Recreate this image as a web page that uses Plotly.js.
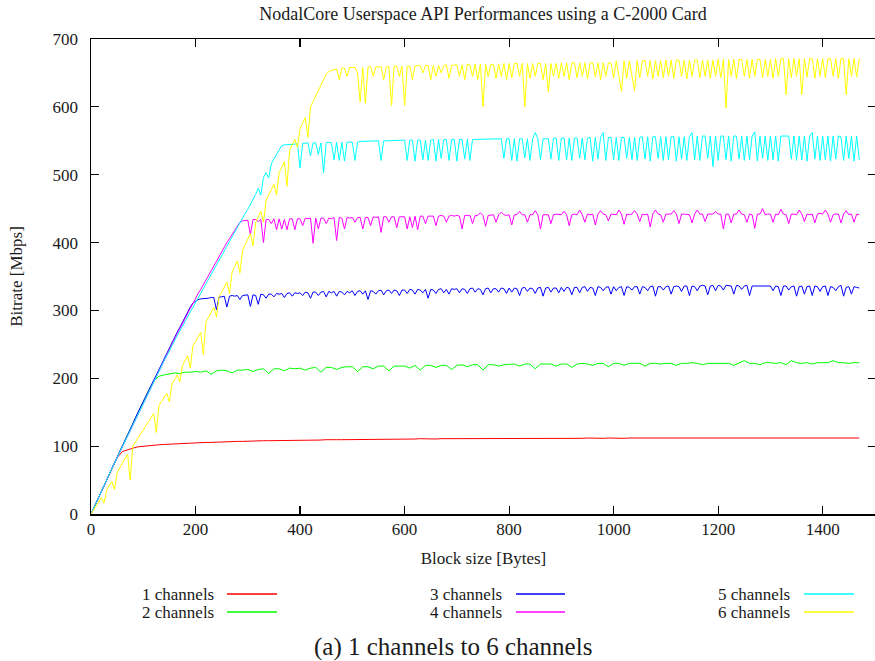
<!DOCTYPE html>
<html>
<head>
<meta charset="utf-8">
<script src="https://cdn.plot.ly/plotly-3.0.1.min.js"></script>
<style>
html,body{margin:0;padding:0;overflow:hidden;background:#fff;}
#chart{width:876px;height:661px;}
</style>
</head>
<body>
<div id="chart"></div>
<script>
// ---- data (Bitrate in Mbps vs block size in bytes) ----
const seriesNames = ["1 channels","2 channels","3 channels","4 channels","5 channels","6 channels"];
const seriesColors = ["#ff0000","#00ff00","#0000ff","#ff00ff","#00ffff","#ffff00"];
const blockStepCoarse = 10; // bytes between samples for 1 and 2 channels
const blockStepFine = 5;    // bytes between samples for 3..6 channels
const xTickVals = [0,200,400,600,800,1000,1200,1400];
const yTickVals = [0,100,200,300,400,500,600,700];

const ch1 = [
0,17,34,50,67,83,92,95,97,99,
100,101,101.5,102,102.5,103,103.5,104,104,104.5,
105,105,105.5,105.5,106,106,106.5,106.5,107,107,
107.5,107.5,107.5,108,108,108,108,108.5,108.5,108.5,
109,108.5,109,109,109,109.5,109,109.5,109.5,109.5,
110,109.5,110,110,110,110,110.5,110,110.5,110.5,
110.5,110.5,110.5,111,110.5,111,110.5,111,111,110.5,
111,111,111,110.5,111,111,111,111.5,111,111,
111,111.5,111,111,111.5,111,111.5,111,111.5,111.5,
111.5,111,111.5,111.5,111.5,112,111.5,111.5,111.5,112,
111.5,112,111.5,112,112,111.5,112,112,111.5,112,
112,112,112,111.5,112,112,112,112,112,112,
112,112.5,112,112,112,112.5,112,112,112.5,112,
112,112.5,112,112,112.5,112,112,112.5,112,112,
112,112,112.5,112,112,112.5,112,112];

const ch2 = [
0,17,34,50,67,84,100,117,133,150,
166,182,196,203,205,206,208,207,209,209,
210,209,211,206,211,212,211,208,212,212,
213,210,213,214,207,214,214,211,215,214,
215,212,215,216,209,216,216,213,216,217,
217,210,217,217,214,218,218,211,218,218,
218,215,219,212,219,219,216,219,219,213,
219,220,217,220,220,212,220,220,218,220,
220,221,218,221,221,214,221,221,221,218,
221,221,216,221,222,221,219,222,222,217,
222,222,219,222,222,222,218,222,222,221,
222,222,219,222,222,223,222,220,222,222,
222,223,222,219,222,226,222,222,220,223,
223,222,223,220,226,223,222,223,221,223,
223,223,226,223,223,222,223,223];

const ch3 = [
0,8,17,25,34,42,50,59,67,76,84,92,100,109,117,125,133,142,150,158,
166,174,182,190,198,206,214,222,230,238,245,253,260,268,275,283,291,298,305,311,
314,316,317,317,318,318,319,319,301,320,320,321,305,321,322,321,322,316,322,323,
323,306,323,322,309,324,323,318,324,324,320,325,324,325,319,325,326,321,326,325,
326,322,327,326,318,327,327,322,327,328,320,328,326,328,321,328,327,323,328,326,
329,322,328,329,324,329,316,329,328,324,329,330,323,329,330,325,330,329,322,330,
330,325,331,330,324,331,330,326,331,318,331,330,325,331,332,326,331,324,332,331,
332,326,332,331,325,332,333,327,332,331,323,332,333,326,332,332,327,333,332,325,
333,327,333,332,322,333,334,328,333,332,325,333,334,321,333,334,327,333,333,326,
334,328,334,333,323,334,334,326,334,335,328,334,333,322,335,334,329,334,335,324,
335,329,334,335,322,335,334,330,335,335,324,335,334,329,335,336,321,335,335,330,
335,336,324,335,336,335,328,336,336,322,336,335,329,336,337,336,323,336,337,329,
337,336,330,337,337,336,324,337,336,331,336,337,322,336,336,336,336,337,336,336,
336,329,336,335,322,336,336,330,335,336,321,335,336,324,335,336,322,336,335,328,
335,336,322,335,334,329,335,337,321,334,335,324,335,334,333];

const ch4 = [
0,8,17,25,34,42,50,59,67,75,84,92,100,108,116,124,132,140,148,156,
164,172,180,188,196,204,212,220,228,236,243,251,258,266,273,281,288,296,303,310,
318,325,331,338,345,352,360,367,374,381,388,394,400,406,412,418,424,430,432,433,
433,412,434,434,431,434,400,434,434,428,435,419,435,420,434,419,435,435,419,435,
435,425,436,435,436,399,436,420,436,436,428,436,435,437,403,437,436,420,437,436,
437,430,437,437,420,437,437,425,438,437,438,415,438,438,430,438,438,422,438,438,
438,420,438,422,439,419,439,439,428,439,439,439,425,439,440,439,430,439,440,439,
440,439,420,440,440,440,428,440,440,444,440,424,440,440,441,430,441,445,441,440,
441,426,441,441,446,441,441,430,441,441,447,441,420,441,441,441,428,441,442,441,
441,446,441,425,441,442,441,448,441,430,442,441,442,426,442,447,442,441,432,442,
442,441,448,442,427,442,441,442,447,442,431,442,441,442,423,442,448,442,441,430,
442,442,442,447,442,428,442,442,442,441,429,442,448,442,442,431,442,442,442,446,
442,442,420,442,442,429,442,442,448,442,441,430,442,441,421,442,442,450,441,442,
442,430,442,441,449,442,441,428,442,442,441,448,442,431,442,441,442,429,442,443,
442,448,442,430,441,442,442,429,442,447,441,442,430,442,441];

const ch5 = [
0,8,17,25,34,42,50,59,67,75,84,92,100,108,116,124,132,140,148,156,
164,172,180,187,195,203,211,218,226,233,241,248,255,263,270,277,284,291,298,305,
312,319,326,333,340,347,354,361,368,375,382,389,396,403,410,417,424,431,437,443,
449,456,463,471,480,470,496,503,495,516,523,530,537,543,544,544,545,545,545,546,
510,546,546,547,528,547,547,530,547,503,547,548,547,522,548,521,548,520,548,548,
548,521,548,549,549,549,549,549,550,550,550,521,550,550,550,550,550,551,551,551,
551,521,551,551,520,551,551,522,551,521,551,552,520,552,524,552,552,521,552,552,
520,552,552,523,552,521,552,552,552,552,552,552,552,552,553,553,553,553,524,553,
553,521,553,520,553,553,525,553,521,553,562,553,522,553,553,553,523,554,554,521,
554,554,522,554,521,554,554,524,554,522,554,555,520,555,523,555,562,521,555,555,
522,555,521,555,555,524,555,522,555,521,555,556,523,556,520,556,556,524,556,521,
556,522,556,556,520,556,523,556,521,556,562,522,557,521,557,557,524,557,512,557,
521,557,557,522,557,520,557,557,523,557,521,557,522,557,563,520,557,524,557,521,
557,522,557,520,557,557,556,557,523,557,521,557,522,557,520,557,562,523,557,521,
557,522,557,520,557,523,557,556,521,557,524,557,520,557,522];

const ch6 = [
0,6,12,18,24,16,36,42,48,36,61,68,75,81,88,50,100,106,112,118,
124,130,136,142,148,120,160,166,172,178,165,192,198,205,195,219,226,233,215,248,
254,261,268,235,283,290,297,305,290,320,327,335,342,325,357,365,373,355,389,397,
405,413,395,429,438,446,430,462,470,478,486,470,503,511,519,483,536,544,552,540,
568,576,584,555,600,608,616,624,632,640,648,652,654,655,656,640,657,657,645,658,
658,658,650,607,658,605,659,659,645,659,659,659,640,659,659,602,660,660,645,660,
602,660,660,640,660,661,660,650,661,661,640,661,645,661,650,661,662,642,661,662,
662,645,662,640,663,662,645,663,640,663,600,663,645,662,663,642,663,645,664,640,
664,643,664,664,645,664,600,664,642,664,645,664,664,640,664,622,664,645,664,642,
665,645,665,640,665,665,643,665,645,665,641,665,665,644,665,640,665,645,665,665,
642,668,645,623,668,642,668,645,624,668,643,668,668,645,668,641,668,645,668,643,
669,645,669,642,669,669,645,669,641,669,645,669,669,643,669,645,669,642,669,645,
670,643,670,598,670,645,670,641,670,670,645,670,642,670,645,670,670,643,670,645,
670,642,671,645,671,671,618,671,643,671,645,671,618,671,644,671,671,642,671,645,
671,643,671,671,645,671,642,671,671,618,671,645,671,644,671];

const seriesValues = [ch1, ch2, ch3, ch4, ch5, ch6];
const seriesSteps = [blockStepCoarse, blockStepCoarse, blockStepFine, blockStepFine, blockStepFine, blockStepFine];

// ---- geometry ----
const W = 876, H = 661, ML = 91, MR = 0, MT = 39, MB = 147;
const PW = W - ML - MR, PH = H - MT - MB;
const pxX = px => (px - ML) / PW;
const pxY = py => (MT + PH - py) / PH;

const FONT = "Liberation Serif";
const TXT = "#1a1a1a";

const traces = seriesValues.map((vals, i) => ({
  type: "scatter", mode: "lines", name: seriesNames[i],
  x: vals.map((_, k) => k * seriesSteps[i]), y: vals,
  line: {color: seriesColors[i], width: 1}, hoverinfo: "skip"
}));

// legend (gnuplot style: label then line sample), 3 columns x 2 rows
const legendCols = [{textRight: 216, lineL: 227, lineR: 277},
                    {textRight: 504, lineL: 516, lineR: 565},
                    {textRight: 792, lineL: 804, lineR: 854}];
const legendRows = [594, 612];
const annotations = [];
const shapes = [];
seriesNames.forEach((name, i) => {
  const c = legendCols[Math.floor(i / 2)];
  const r = legendRows[i % 2];
  annotations.push({xref: "paper", yref: "paper", x: pxX(c.textRight), y: pxY(r),
    xanchor: "right", yanchor: "middle", text: name, showarrow: false,
    font: {family: FONT, size: 17, color: TXT}});
  shapes.push({type: "line", xref: "paper", yref: "paper",
    x0: pxX(c.lineL), x1: pxX(c.lineR), y0: pxY(r), y1: pxY(r),
    line: {color: seriesColors[i], width: 1.5}});
});
annotations.push({xref: "paper", yref: "paper", x: pxX(453), y: pxY(647),
  xanchor: "center", yanchor: "middle", text: "(a) 1 channels to 6 channels", showarrow: false,
  font: {family: FONT, size: 25, color: TXT}});

const axisCommon = {
  showline: true, linecolor: "#000", linewidth: 1.5, mirror: "ticks",
  ticks: "inside", ticklen: 8, tickwidth: 1.2, tickcolor: "#000",
  showgrid: false, zeroline: false, fixedrange: true,
  tickfont: {family: FONT, size: 17, color: TXT}
};

const layout = {
  width: W, height: H,
  margin: {l: ML, r: MR, t: MT, b: MB, pad: 0},
  paper_bgcolor: "#fff", plot_bgcolor: "#fff",
  showlegend: false,
  title: {text: "NodalCore Userspace API Performances using a C-2000 Card",
          font: {family: FONT, size: 18, color: TXT}, xref: "container", x: 483 / W, xanchor: "center",
          y: 1 - 14 / H, yanchor: "middle"},
  xaxis: Object.assign({}, axisCommon, {
    range: [0, 1502], tickmode: "array", tickvals: xTickVals, ticktext: xTickVals.map(String),
    ticklabelstandoff: -1,
    title: {text: "Block size [Bytes]", font: {family: FONT, size: 17, color: TXT}, standoff: 14}
  }),
  yaxis: Object.assign({}, axisCommon, {
    range: [0, 700], tickmode: "array", tickvals: yTickVals, ticktext: yTickVals.map(String),
    ticklabelstandoff: 8,
    title: {text: "Bitrate [Mbps]", font: {family: FONT, size: 17, color: TXT}, standoff: 25}
  }),
  annotations: annotations,
  shapes: shapes
};

Plotly.newPlot("chart", traces, layout, {staticPlot: true, displayModeBar: false});
</script>
</body>
</html>
